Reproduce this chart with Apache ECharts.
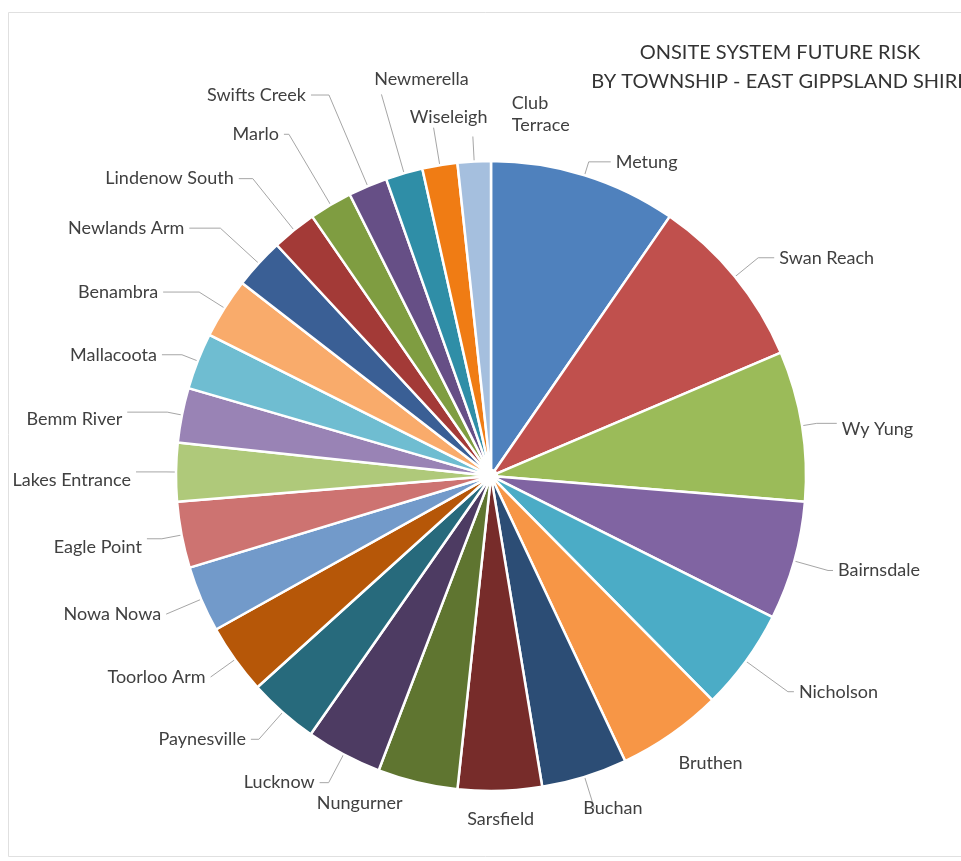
<!DOCTYPE html>
<html>
<head>
<meta charset="utf-8">
<script src="https://cdn.jsdelivr.net/npm/echarts@6/dist/echarts.min.js"></script>
<style>
  html, body { margin: 0; padding: 0; background: #ffffff; }
  #chart { width: 961px; height: 861px; }
</style>
</head>
<body>
<div id="chart"></div>
<script>
// Townships, in the order the slices run clockwise from 12 o'clock
const townships = [
  'Metung', 'Swan Reach', 'Wy Yung', 'Bairnsdale', 'Nicholson', 'Bruthen',
  'Buchan', 'Sarsfield', 'Nungurner', 'Lucknow', 'Paynesville', 'Toorloo Arm',
  'Nowa Nowa', 'Eagle Point', 'Lakes Entrance', 'Bemm River', 'Mallacoota', 'Benambra',
  'Newlands Arm', 'Lindenow South', 'Marlo', 'Swifts Creek', 'Newmerella', 'Wiseleigh',
  'Club Terrace'
];

// Future risk share per township (% of shire total)
const riskShare = [
  9.6, 9.0, 7.7, 6.1, 5.2, 5.4,
  4.4, 4.3, 4.1, 3.9, 3.6, 3.6,
  3.4, 3.4, 3.0, 2.8, 2.9, 3.1,
  2.6, 2.3, 2.2, 2.0, 1.9, 1.8,
  1.7
];

// Office-style slice palette
const sliceColors = [
  '#4f81bd', '#c0504d', '#9bbb59', '#8064a2', '#4bacc6', '#f79646',
  '#2c4d75', '#772c2a', '#5f7530', '#4d3b62', '#276a7c', '#b65708',
  '#729aca', '#cd7371', '#afc97a', '#9983b5', '#6fbdd1', '#f9ab6b',
  '#3a5f95', '#a33a37', '#7f9d41', '#664f86', '#2f8ea7', '#f07c14',
  '#a5bfde'
];

const titleLines = ['ONSITE SYSTEM FUTURE RISK', 'BY TOWNSHIP - EAST GIPPSLAND SHIRE'];

// Leader line lengths [radial, horizontal] so the labels fan out around the pie
const leaders = {
  'Metung': [14, 22], 'Swan Reach': [30, 16], 'Wy Yung': [15, 20],
  'Bairnsdale': [35, 5], 'Nicholson': [52, 6], 'Bruthen': [30, 0],
  'Buchan': [33, 0], 'Sarsfield': [28, 0], 'Nungurner': [21, 5],
  'Lucknow': [32, 9], 'Paynesville': [36, 8], 'Toorloo Arm': [30, 0],
  'Nowa Nowa': [38, 0], 'Eagle Point': [20, 15], 'Lakes Entrance': [10, 30],
  'Bemm River': [15, 40], 'Mallacoota': [17, 20], 'Benambra': [30, 36],
  'Newlands Arm': [52, 31], 'Lindenow South': [66, 14], 'Marlo': [82, 5],
  'Swifts Creek': [99, 18], 'Newmerella': [82, 0], 'Wiseleigh': [38, 0],
  'Club Terrace': [25, 0]
};

// Slices whose label sits next to the pie without a leader line
const noLeader = ['Bruthen', 'Sarsfield', 'Nungurner'];

// Label placement tweaks relative to the end of each leader line
const labelAnchor = {
  'Wy Yung': { dy: 6 },
  'Eagle Point': { dy: 8 },
  'Lakes Entrance': { dy: 8 },
  'Bemm River': { dy: 7 },
  'Bruthen': { dx: -15, dy: 4 },
  'Buchan': { dx: -16 },
  'Sarsfield': { align: 'center', verticalAlign: 'middle', dx: -5 },
  'Newmerella': { align: 'center', verticalAlign: 'bottom', dx: 45, dy: -4 },
  'Wiseleigh': { align: 'center', verticalAlign: 'bottom', dx: 20 },
  'Club Terrace': { align: 'left', verticalAlign: 'bottom', dx: 44 }
};

const chart = echarts.init(document.getElementById('chart'), null, { renderer: 'canvas' });

const pieData = townships.map((name, i) => {
  const lens = leaders[name];
  const item = {
    name: name,
    value: riskShare[i],
    itemStyle: { color: sliceColors[i] },
    labelLine: { show: noLeader.indexOf(name) < 0, length: lens[0], length2: lens[1] }
  };
  if (name === 'Club Terrace') {
    item.label = { formatter: 'Club\nTerrace' };
  }
  return item;
});

chart.setOption({
  backgroundColor: '#ffffff',
  animation: false,
  title: {
    text: titleLines.join('\n'),
    left: 775,
    top: 33,
    textAlign: 'center',
    textStyle: {
      fontFamily: 'Lato, "Open Sans", sans-serif',
      fontSize: 20,
      fontWeight: 'normal',
      color: '#333333',
      lineHeight: 29
    }
  },
  graphic: [{
    type: 'rect',
    silent: true,
    z: -10,
    shape: { x: 8.5, y: 12.5, width: 1000, height: 844 },
    style: { fill: 'none', stroke: '#e0e0e0', lineWidth: 1 }
  }],
  series: [{
    type: 'pie',
    center: [491, 476],
    radius: [6, 315],
    startAngle: 90,
    clockwise: true,
    avoidLabelOverlap: false,
    data: pieData,
    itemStyle: { borderColor: '#ffffff', borderWidth: 2.5 },
    label: {
      show: true,
      position: 'outside',
      fontFamily: 'Lato, "Open Sans", sans-serif',
      fontSize: 18,
      color: '#404040',
      lineHeight: 22
    },
    labelLine: {
      lineStyle: { color: '#a6a6a6', width: 1 }
    },
    labelLayout: function (params) {
      const a = labelAnchor[townships[params.dataIndex]];
      if (!a) return {};
      const out = {};
      if (a.align) out.align = a.align;
      if (a.verticalAlign) out.verticalAlign = a.verticalAlign;
      if (a.dx) out.dx = a.dx;
      if (a.dy) out.dy = a.dy;
      return out;
    },
    emphasis: { disabled: true }
  }]
});
</script>
</body>
</html>
